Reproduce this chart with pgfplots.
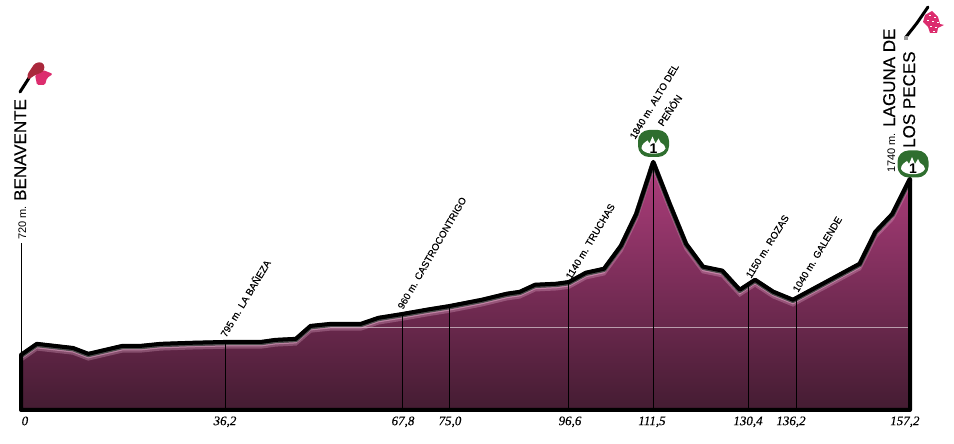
\documentclass[border=0pt]{standalone}
\usepackage{pgfplots}
\pgfplotsset{compat=1.18}
\usepackage{fontspec}
\setmainfont{Liberation Sans}
\newfontfamily\tickfont[ItalicFeatures={FakeBold=0.2}]{Liberation Serif}
\newfontfamily\heavy[FakeBold=0.25]{Liberation Sans}
\definecolor{topc}{RGB}{175,62,125}
\definecolor{botc}{RGB}{68,28,50}
\definecolor{glow}{RGB}{235,180,210}
\definecolor{badge}{RGB}{47,110,47}
\definecolor{flagA}{RGB}{170,40,60}
\definecolor{flagB}{RGB}{220,45,110}
\newcommand\lab[3]{\node[rotate=#1,anchor=base west,inner sep=0pt,font=\heavy\fontsize{9.8}{11}\selectfont] at (#2) {#3};}
\newcommand\badgeat[2]{%
  \fill[badge,rounded corners=11pt] ({#1-15.5},{#2-13.5}) rectangle ({#1+15.5},{#2+13.5});
  \fill[white] ({#1-12},{#2+5}) .. controls ({#1-12},{#2+1}) and ({#1-9},{#2-1}) .. ({#1-6},{#2-3}) -- ({#1-4},{#2}) -- ({#1-1},{#2-7}) -- ({#1+2},{#2}) -- ({#1+5},{#2-5}) -- ({#1+7},{#2-1}) .. controls ({#1+10},{#2+1}) and ({#1+12},{#2+2}) .. ({#1+12},{#2+5}) .. controls ({#1+9},{#2+12}) and ({#1-9},{#2+12}) .. cycle;
  \node[inner sep=0pt,font=\fontsize{14}{14}\bfseries\selectfont] at ({#1},{#2+5}) {1};}
\pgfplotstableread{
km elev
0 720
2.8 784
6 772
9.2 760
11.9 726
14.9 749
17.9 772
21.1 772
24.7 784
30 790
36.2 795
42.4 795
45 807
48.6 813
51.2 888
54.8 900
60.1 900
63.2 935
67.4 957
71.9 983
75.7 1003
81.5 1040
85.9 1075
88.2 1086
90.9 1127
94.7 1133
96.9 1143
99.9 1197
103.1 1220
106.1 1354
108.8 1539
111.8 1840
114.7 1597
117.6 1365
120.6 1232
124 1209
127.1 1098
129.8 1156
133 1087
136.5 1040
142.1 1139
148.3 1249
151.1 1435
154.1 1539
157.2 1743
}\profile
\pgfplotstableread{
km elev
0 400
0 720
2.8 784
6 772
9.2 760
11.9 726
14.9 749
17.9 772
21.1 772
24.7 784
30 790
36.2 795
42.4 795
45 807
48.6 813
51.2 888
54.8 900
60.1 900
63.2 935
67.4 957
71.9 983
75.7 1003
81.5 1040
85.9 1075
88.2 1086
90.9 1127
94.7 1133
96.9 1143
99.9 1197
103.1 1220
106.1 1354
108.8 1539
111.8 1840
114.7 1597
117.6 1365
120.6 1232
124 1209
127.1 1098
129.8 1156
133 1087
136.5 1040
142.1 1139
148.3 1249
151.1 1435
154.1 1539
157.2 1743
157.2 400
}\outline
\begin{document}
\begin{tikzpicture}[x=1pt,y=1pt]
\useasboundingbox (0,0) rectangle (954pt,444pt);
\begin{axis}[
  at={(21pt,34pt)},anchor=south west,
  width=889pt,height=410pt,scale only axis,
  xmin=0,xmax=157.2,ymin=400,ymax=2779.6,
  clip=false,
  axis line style={draw=none},
  ytick=\empty,
  xtick={0.7,36.07,67.55,75.86,97.08,111.58,128.56,136.16,156.3},
  xticklabels={0,{36,2},{67,8},{75,0},{96,6},{111,5},{130,4},{136,2},{157,2}},
  tick style={draw=none},
  xticklabel style={font=\fontsize{13}{13}\tickfont\itshape\selectfont,yshift=-3pt},
]
\addplot[draw=none,top color=topc,bottom color=botc] table[x=km,y=elev] {\outline} -- cycle;
\addplot[draw=white,opacity=.55,line width=.8pt] coordinates {(51,882)(157.2,882)};
\addplot[draw=glow,opacity=.3,line width=3.5pt,yshift=-5pt] table[x=km,y=elev] {\profile};
\addplot[draw=glow,opacity=.5,line width=1.5pt,yshift=-3.8pt] table[x=km,y=elev] {\profile};
\addplot[draw=black!70,line width=5pt,yshift=-.8pt,line join=round] table[x=km,y=elev] {\profile};
\addplot[draw=black,line width=4pt,line join=round] table[x=km,y=elev] {\outline} -- cycle;
\addplot[draw=black,line width=1pt] coordinates {(0,400)(0,1370)};
\addplot[draw=black,line width=1pt] coordinates {(36.2,400)(36.2,795)};
\addplot[draw=black,line width=1pt] coordinates {(67.4,400)(67.4,957)};
\addplot[draw=black,line width=1pt] coordinates {(75.7,400)(75.7,1003)};
\addplot[draw=black,line width=1pt] coordinates {(96.9,400)(96.9,1143)};
\addplot[draw=black,line width=1pt] coordinates {(111.8,400)(111.8,1840)};
\addplot[draw=black,line width=1pt] coordinates {(128.6,400)(128.6,1131)};
\addplot[draw=black,line width=1pt] coordinates {(137.2,400)(137.2,1044)};
\end{axis}
\begin{scope}[x=1pt,y=-1pt,yshift=444pt]
\lab{59}{226,338}{795 m. LA BAÑEZA}
\lab{60}{403,310}{960 m. CASTROCONTRIGO}
\lab{59}{571,280}{1140 m. TRUCHAS}
\lab{59}{635,140}{1840 m. ALTO DEL}
\lab{56}{663,127}{PEÑÓN}
\lab{58}{751,279}{1150 m. ROZAS}
\lab{59}{798,293}{1040 m. GALENDE}
\node[rotate=90,anchor=base west,inner sep=0pt,font=\fontsize{11}{11}\selectfont] at (26,240) {720 m.};
\node[rotate=90,anchor=base west,inner sep=0pt,font=\fontsize{11}{11}\selectfont] at (895,173) {1740 m.};
\node[rotate=90,anchor=base west,inner sep=0pt,font=\heavy\fontsize{17}{17}\selectfont] at (26,201) {BENAVENTE};
\node[rotate=90,anchor=base west,inner sep=0pt,font=\heavy\fontsize{17}{17}\selectfont] at (895,127) {LAGUNA DE};
\node[rotate=90,anchor=base west,inner sep=0pt,font=\heavy\fontsize{17}{17}\selectfont] at (915,148) {LOS PECES};
\badgeat{653.5}{143.5}
\badgeat{913}{164}
% start flag
\draw[black,line width=3pt,line cap=round] (20,92) -- (29,78);
\fill[flagB,rounded corners=1.5pt] (35,75) -- (43,70) -- (53,74) -- (47,78) -- (45,85) -- (37,85) -- cycle;
\fill[flagA,rounded corners=2.5pt] (27,75) -- (35,63) -- (42,62) -- (45,67) -- (43,72) -- (35,75) -- (28,80) -- cycle;
% finish flag
\draw[black,line width=3pt,line cap=round] (906,37) -- (917,23) -- (928,7);
\fill[black!40] (904,36) rectangle (908,40);
\fill[flagB] (925,15) -- (932,11) -- (938,17) -- (940,24) -- (944,25) -- (938,28) -- (937,33) -- (930,33) -- (928,27) -- (923,22) -- cycle;
\foreach \a/\b in {929/15,934/17,927/20,932/21,937/22,930/26,935/27,933/31}
  \fill[white] (\a,\b) rectangle (\a+1.8,\b+1.4);
\end{scope}
\end{tikzpicture}
\end{document}
